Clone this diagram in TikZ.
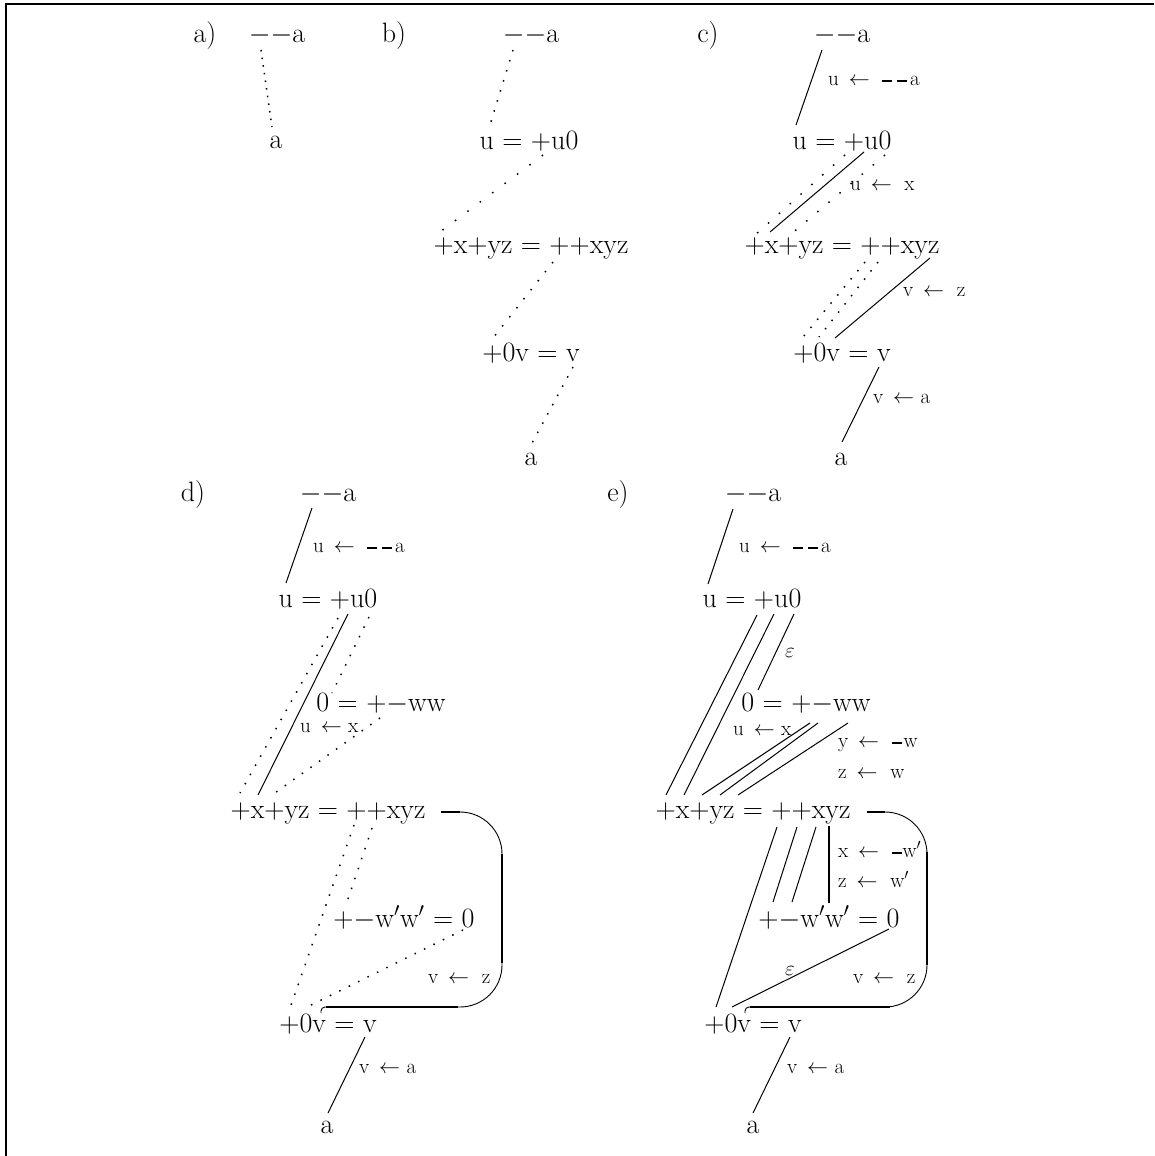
\RequirePackage{fix-cm}
\documentclass[tikz,border=0pt]{standalone}
\newcommand{\dsh}{\rule[0.16em]{0.46em}{0.1em}}
\begin{document}
\begin{tikzpicture}[
        x=1pt, y=-1pt,
        term/.style={inner sep=0pt, anchor=base, font={\fontsize{28}{32}\selectfont}},
        sub/.style={inner sep=0pt, anchor=base west, font={\fontsize{21}{24}\selectfont}},
        link/.style={line width=1pt},
        bar/.style={line width=1.8pt},
        dotlink/.style={line width=1.5pt, dash pattern=on 1.5pt off #1},
        dotlink/.default=9pt,
        loopline/.style={line width=0.9pt, rounded corners=42pt},
        hook/.style={line width=0.9pt, rounded corners=4pt},
        frame/.style={line width=1.8pt},
    ]
    \useasboundingbox (0,0) rectangle (1154,1156);
    \draw[frame] (6,1156) -- (6,4) -- (1154,4);

    % a)
    \node[term](atag) at (205,43){a)};
    \node[term](atop) at (277,43){$-$$-$a};
    \node[term](aa) at (276,148){a};
    \draw[dotlink=6.2pt] ([shift={(-16,7)}]atop.base) -- ([shift={(-4,-21)}]aa.base);

    % b)
    \node[term](btag) at (394,43){b)};
    \node[term](btop) at (531,43){$-$$-$a};
    \node[term](bu) at (529,149){u $=$ $+$u0};
    \node[term](bxyz) at (531,253){$+$x$+$yz $=$ $+$$+$xyz};
    \node[term](bv) at (531,361){$+$0v $=$ v};
    \node[term](ba) at (531,465){a};
    \draw[dotlink] ([shift={(-18,7)}]btop.base) -- ([shift={(-40,-21)}]bu.base);
    \draw[dotlink=14pt] ([shift={(14,6)}]bu.base) -- ([shift={(-91,-21)}]bxyz.base);
    \draw[dotlink=10pt] ([shift={(22,9)}]bxyz.base) -- ([shift={(-38,-23)}]bv.base);
    \draw[dotlink] ([shift={(42,6)}]bv.base) -- ([shift={(0,-20)}]ba.base);

    % c)
    \node[term](ctag) at (708,43){c)};
    \node[term](ctop) at (842,43){$-$$-$a};
    \node[term](cu) at (842,149){u $=$ $+$u0};
    \node[term](cxyz) at (842,253){$+$x$+$yz $=$ $+$$+$xyz};
    \node[term](cv) at (842,361){$+$0v $=$ v};
    \node[term](ca) at (841,465){a};
    \node[sub](cl1) at (828,85){u~\,$\leftarrow$~~\dsh\hspace{0.25em}\dsh\hspace{0.15em}a};
    \node[sub](cl2) at (850,190){u~\,$\leftarrow$~~x};
    \node[sub](cl3) at (903,296){v~\,$\leftarrow$~~z};
    \node[sub](cl4) at (873,403){v~\,$\leftarrow$~a};
    \draw[link] ([shift={(-20,7)}]ctop.base) -- ([shift={(-46,-24)}]cu.base);
    \draw[dotlink=13pt] ([shift={(3,6)}]cu.base) -- ([shift={(-87,-18)}]cxyz.base);
    \draw[link] ([shift={(22,3)}]cu.base) -- ([shift={(-72,-21)}]cxyz.base);
    \draw[dotlink=13pt] ([shift={(43,6)}]cu.base) -- ([shift={(-52,-18)}]cxyz.base);
    \draw[dotlink] ([shift={(23,9)}]cxyz.base) -- ([shift={(-39,-24)}]cv.base);
    \draw[dotlink] ([shift={(36,9)}]cxyz.base) -- ([shift={(-23,-24)}]cv.base);
    \draw[link] ([shift={(88,5)}]cxyz.base) -- ([shift={(-7,-23)}]cv.base);
    \draw[link] ([shift={(37,6)}]cv.base) -- ([shift={(1,-23)}]ca.base);

    % d)
    \node[term](dtag) at (193,501){d)};
    \node[term](dtop) at (328,501){$-$$-$a};
    \node[term](du) at (328,607){u $=$ $+$u0};
    \node[term](dw) at (381,711){0 $=$ $+$$-$ww};
    \node[term](dxyz) at (328,818){$+$x$+$yz $=$ $+$$+$xyz};
    \node[term](dw2) at (404,927){$+$$-$w$'$w$'$ $=$ 0};
    \node[term](dv) at (328,1032){$+$0v $=$ v};
    \node[term](da) at (327,1133){a};
    \node[sub](dl1) at (313,552){u~\,$\leftarrow$~~\dsh\hspace{0.25em}\dsh\hspace{0.15em}a};
    \node[sub](dl2) at (300,732){u~\,$\leftarrow$~x};
    \node[sub](dl3) at (428,983){v~\,$\leftarrow$~~z};
    \node[sub](dl4) at (359,1073){v~\,$\leftarrow$~a};
    \draw[link] ([shift={(-16,7)}]dtop.base) -- ([shift={(-42,-24)}]du.base);
    \draw[dotlink] ([shift={(10,11)}]du.base) -- ([shift={(-88,-25)}]dxyz.base);
    \draw[link] ([shift={(20,7)}]du.base) -- ([shift={(-70,-23)}]dxyz.base);
    \draw[dotlink] ([shift={(41,10)}]du.base) -- ([shift={(-49,-18)}]dw.base);
    \draw[dotlink] ([shift={(-1,7)}]dw.base) -- ([shift={(-56,-23)}]dxyz.base);
    \draw[dotlink] ([shift={(26,7)}]dxyz.base) -- ([shift={(-38,-24)}]dv.base);
    \draw[dotlink] ([shift={(44,10)}]dxyz.base) -- ([shift={(-57,-25)}]dw2.base);
    \draw[dotlink] ([shift={(59,3)}]dw2.base) -- ([shift={(-21,-25)}]dv.base);
    \draw[link] ([shift={(37,5)}]dv.base) -- ([shift={(1,-20)}]da.base);
    \draw[loopline] ([shift={(113,-6)}]dxyz.base) -- ++(61,0) -- ++(0,195)
        -- ([shift={(-2,-25)}]dv.base);
    \draw[hook] ([shift={(-2,-25)}]dv.base) -- ++(-5,0) -- ++(0,6);
    \draw[bar] ([shift={(113,-6)}]dxyz.base) -- ++(19,0);
    \draw[bar] ([shift={(174,36)}]dxyz.base) -- ++(0,109);
    \draw[bar, line width=1.4pt] ([shift={(-2,-25)}]dv.base) -- ++(132,0);

    % e)
    \node[term](etag) at (618,501){e)};
    \node[term](etop) at (753,501){$-$$-$a};
    \node[term](eu) at (752,607){u $=$ $+$u0};
    \node[term](ew) at (806,711){0 $=$ $+$$-$ww};
    \node[term](exyz) at (753,818){$+$x$+$yz $=$ $+$$+$xyz};
    \node[term](ew2) at (829,927){$+$$-$w$'$w$'$ $=$ 0};
    \node[term](ev) at (753,1032){$+$0v $=$ v};
    \node[term](ea) at (753,1133){a};
    \node[sub](el1) at (739,552){u~\,$\leftarrow$~~\dsh\hspace{0.25em}\dsh\hspace{0.15em}a};
    \node[sub](el2) at (785,657){$\varepsilon$};
    \node[sub](el3) at (733,735){u~\,$\leftarrow$~x};
    \node[sub](el4) at (838,747){y~\,$\leftarrow$~~\dsh\hspace{0.1em}w};
    \node[sub](el5) at (838,778){z~\,$\leftarrow$~~w};
    \node[sub](el6) at (838,857){x~\,$\leftarrow$~~\dsh\hspace{0.05em}w$'$};
    \node[sub](el7) at (838,887){z~\,$\leftarrow$~~w$'$};
    \node[sub](el8) at (785,975){$\varepsilon$};
    \node[sub](el9) at (853,983){v~\,$\leftarrow$~~z};
    \node[sub](el10) at (787,1073){v~\,$\leftarrow$~a};
    \draw[link] ([shift={(-20,8)}]etop.base) -- ([shift={(-44,-23)}]eu.base);
    \draw[link] ([shift={(5,8)}]eu.base) -- ([shift={(-87,-23)}]exyz.base);
    \draw[link] ([shift={(22,7)}]eu.base) -- ([shift={(-69,-23)}]exyz.base);
    \draw[link] ([shift={(42,7)}]eu.base) -- ([shift={(-48,-21)}]ew.base);
    \draw[link] ([shift={(4,12)}]ew.base) -- ([shift={(-51,-23)}]exyz.base);
    \draw[link] ([shift={(12,12)}]ew.base) -- ([shift={(-33,-23)}]exyz.base);
    \draw[link] ([shift={(42,12)}]ew.base) -- ([shift={(-15,-23)}]exyz.base);
    \draw[link] ([shift={(24,9)}]exyz.base) -- ([shift={(-37,-25)}]ev.base);
    \draw[link] ([shift={(44,9)}]exyz.base) -- ([shift={(-56,-25)}]ew2.base);
    \draw[link] ([shift={(63,9)}]exyz.base) -- ([shift={(-37,-25)}]ew2.base);
    \draw[bar] ([shift={(76,8)}]exyz.base) -- ([shift={(0,-24)}]ew2.base);
    \draw[link] ([shift={(60,2)}]ew2.base) -- ([shift={(-21,-25)}]ev.base);
    \draw[link] ([shift={(37,5)}]ev.base) -- ([shift={(0,-20)}]ea.base);
    \draw[loopline] ([shift={(114,-6)}]exyz.base) -- ++(60,0) -- ++(0,195)
        -- ([shift={(-3,-25)}]ev.base);
    \draw[hook] ([shift={(-3,-25)}]ev.base) -- ++(-5,0) -- ++(0,6);
    \draw[bar] ([shift={(114,-6)}]exyz.base) -- ++(18,0);
    \draw[bar] ([shift={(174,34)}]exyz.base) -- ++(0,113);
    \draw[bar, line width=1.4pt] ([shift={(-3,-25)}]ev.base) -- ++(140,0);
\end{tikzpicture}
\end{document}
